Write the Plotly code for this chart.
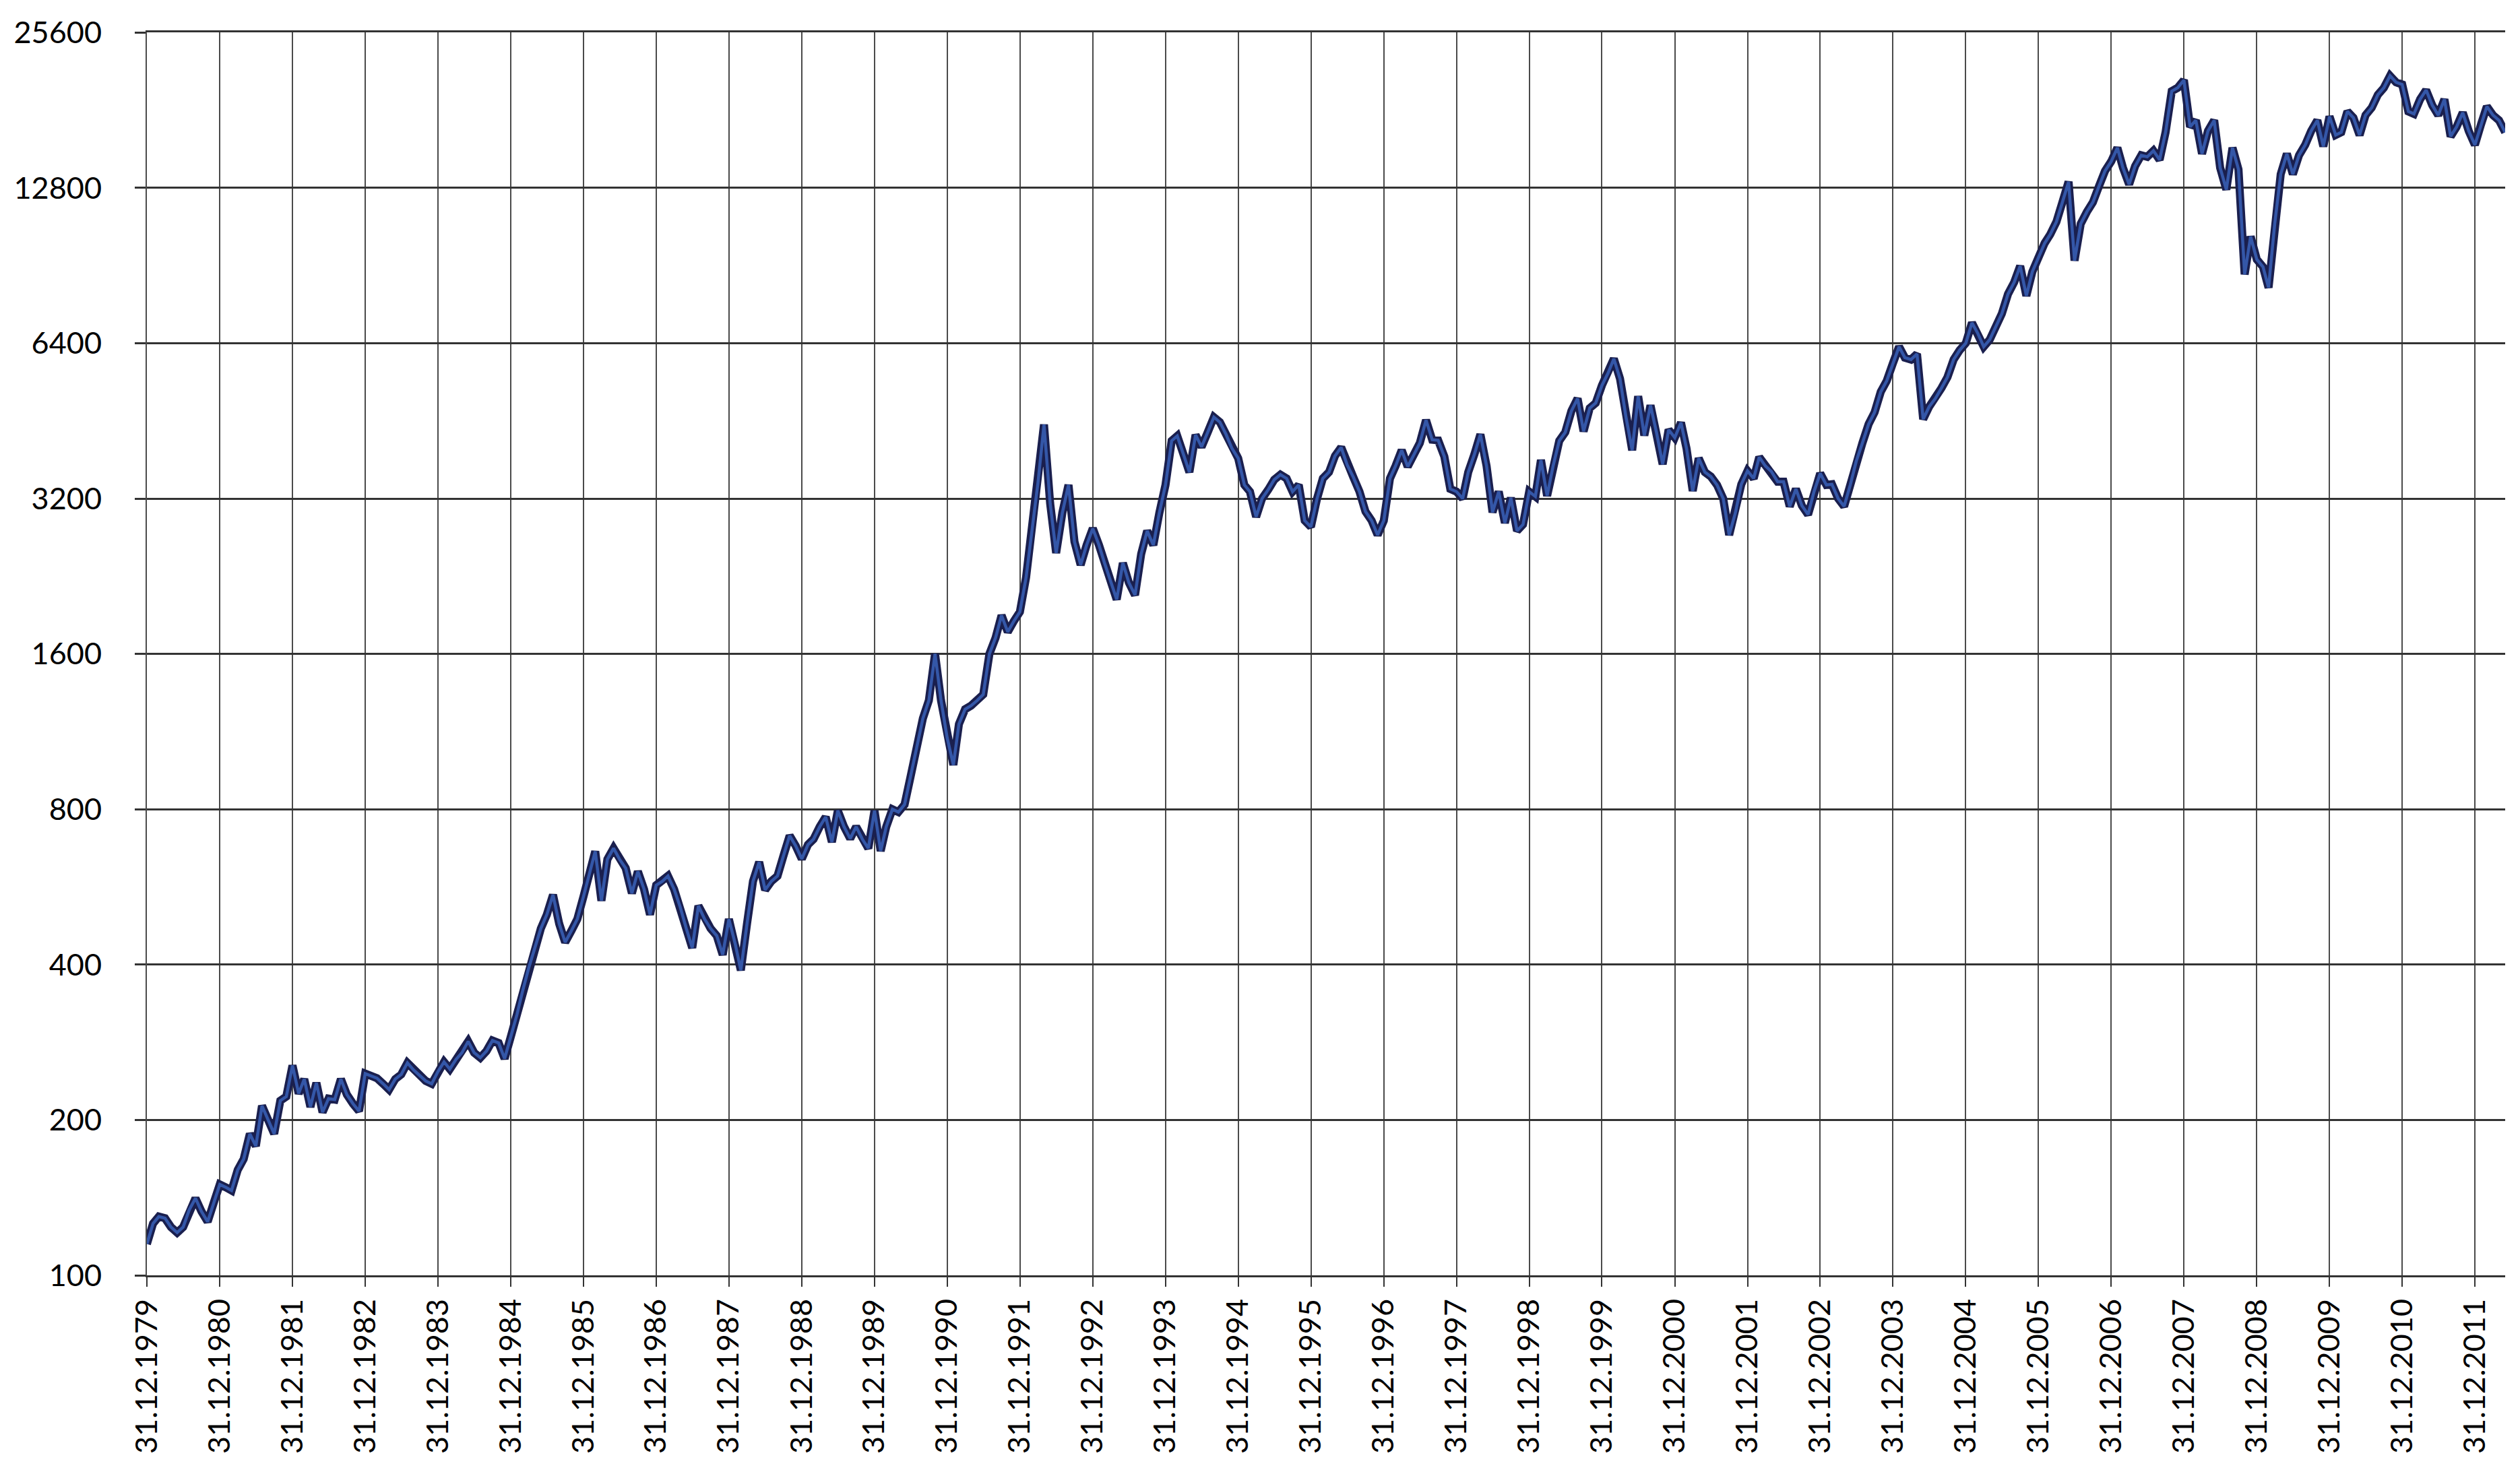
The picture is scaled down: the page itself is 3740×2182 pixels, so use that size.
import pandas as pd
import plotly.graph_objects as go

# month-end index levels (start 31.12.1979)
start_value = [115]
y1980 = [126, 130, 129, 124, 121, 124, 134, 141, 133, 127, 138, 150]
y1981 = [148, 146, 160, 168, 188, 178, 213, 200, 188, 218, 222, 255]
y1982 = [225, 240, 212, 236, 207, 220, 219, 240, 224, 215, 208, 246]
y1983 = [243, 241, 235, 229, 240, 245, 258, 250, 244, 238, 235, 248]
y1984 = [259, 251, 262, 270, 284, 270, 264, 272, 285, 282, 263, 290]
y1985 = [320, 355, 394, 430, 470, 500, 546, 480, 442, 465, 490, 542]
y1986 = [600, 663, 532, 640, 672, 640, 615, 550, 606, 560, 500, 570]
y1987 = [580, 594, 560, 518, 470, 431, 520, 490, 470, 455, 418, 490]
y1988 = [440, 390, 480, 580, 632, 558, 580, 594, 650, 711, 680, 641]
y1989 = [683, 700, 740, 773, 691, 795, 740, 702, 740, 700, 672, 795]
y1990 = [664, 740, 800, 790, 817, 925, 1050, 1200, 1300, 1600, 1300, 1100]
y1991 = [975, 1170, 1250, 1270, 1300, 1335, 1600, 1720, 1900, 1765, 1850, 1930]
y1992 = [2250, 2800, 3440, 4450, 3130, 2510, 3000, 3400, 2640, 2380, 2600, 2800]
y1993 = [2600, 2400, 2200, 2040, 2400, 2200, 2080, 2500, 2770, 2600, 3000, 3400]
y1994 = [4140, 4230, 3900, 3600, 4250, 4030, 4300, 4600, 4500, 4260, 4000, 3830]
y1995 = [3400, 3300, 2950, 3200, 3330, 3480, 3560, 3500, 3300, 3400, 2900, 2820]
y1996 = [3200, 3500, 3600, 3870, 4020, 3720, 3520, 3300, 3020, 2900, 2720, 2900]
y1997 = [3500, 3700, 3970, 3690, 3890, 4100, 4540, 4160, 4150, 3860, 3340, 3300]
y1998 = [3200, 3600, 3900, 4260, 3700, 3010, 3300, 2870, 3210, 2770, 2850, 3300]
y1999 = [3230, 3800, 3240, 3700, 4140, 4300, 4730, 5000, 4320, 4790, 4900, 5300]
y2000 = [5600, 5970, 5460, 4600, 3970, 5050, 4240, 4850, 4300, 3730, 4350, 4200]
y2001 = [4490, 4000, 3310, 3830, 3600, 3530, 3400, 3200, 2720, 3000, 3410, 3620]
y2002 = [3500, 3850, 3700, 3610, 3450, 3450, 3090, 3340, 3100, 2980, 3300, 3580]
y2003 = [3400, 3410, 3200, 3090, 3400, 3780, 4100, 4460, 4700, 5150, 5410, 5850]
y2004 = [6300, 6000, 5950, 6100, 4560, 4820, 5000, 5240, 5500, 5950, 6200, 6400]
y2005 = [7010, 6700, 6300, 6500, 6900, 7300, 7970, 8400, 9030, 7910, 8800, 9420]
y2006 = [10000, 10400, 11000, 12000, 13150, 9250, 10900, 11500, 12000, 12900, 13800, 14400]
y2007 = [15300, 14000, 13000, 14100, 14800, 14700, 15100, 14500, 16400, 19700, 20000, 20700]
y2008 = [16800, 17300, 14900, 16500, 17300, 14000, 12700, 15300, 13900, 8700, 10300, 9300]
y2009 = [9000, 8200, 10900, 13600, 14900, 13600, 14800, 15500, 16500, 17300, 15400, 17600]
y2010 = [16200, 16400, 18000, 17500, 16200, 17700, 18300, 19400, 20000, 21100, 20500, 20300]
y2011 = [18000, 17800, 19000, 19800, 18500, 17700, 19000, 16100, 16800, 17900, 16500, 15500]
y2012 = [17000, 18400, 17700, 17300, 16400]

values = (start_value + y1980 + y1981 + y1982 + y1983 + y1984 + y1985 + y1986
          + y1987 + y1988 + y1989 + y1990 + y1991 + y1992 + y1993 + y1994
          + y1995 + y1996 + y1997 + y1998 + y1999 + y2000 + y2001 + y2002
          + y2003 + y2004 + y2005 + y2006 + y2007 + y2008 + y2009 + y2010
          + y2011 + y2012)
dates = pd.date_range("1979-12-31", periods=len(values), freq="ME")

years = list(range(1979, 2012))
x_ticks = [f"{y}-12-31" for y in years]
x_labels = [f"31.12.{y}" for y in years]
y_ticks = [100, 200, 400, 800, 1600, 3200, 6400, 12800, 25600]

fig = go.Figure()
# dark outline + blue core, like the printed line
fig.add_trace(go.Scatter(x=dates, y=values, mode="lines",
                         line=dict(color="#1a1f4e", width=12), hoverinfo="skip"))
fig.add_trace(go.Scatter(x=dates, y=values, mode="lines",
                         line=dict(color="#3457a8", width=4.5)))

fig.update_layout(
    width=3740, height=2182,
    margin=dict(l=207, r=30, t=36, b=297),
    paper_bgcolor="white", plot_bgcolor="white",
    showlegend=False,
    font=dict(family="Lato, Open Sans, sans-serif", size=45, color="#000"),
)
fig.update_xaxes(
    type="date", range=[dates[0], dates[-1]],
    tickmode="array", tickvals=x_ticks, ticktext=x_labels, tickangle=-90,
    showgrid=True, gridcolor="#4a4a4a", gridwidth=2,
    showline=True, linecolor="#333", linewidth=3, mirror=True,
    ticks="outside", ticklen=14, tickcolor="#333", tickwidth=2,
)
fig.update_yaxes(
    type="log", range=[2, 4.4085],
    tickmode="array", tickvals=y_ticks, ticktext=[str(v) for v in y_ticks],
    showgrid=True, gridcolor="#333", gridwidth=3,
    showline=True, linecolor="#4a4a4a", linewidth=2,
    ticks="outside", ticklen=16, tickcolor="#333", tickwidth=3,
    ticklabelstandoff=40, ticklabeloverflow="allow",
)

fig.write_html("out.html")
